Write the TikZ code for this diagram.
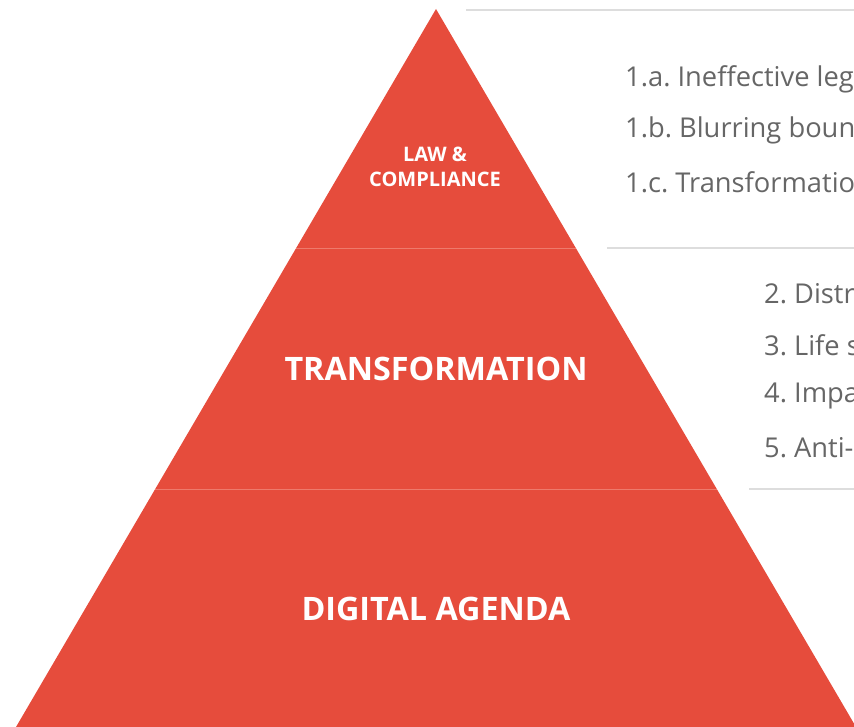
\documentclass[tikz,border=0pt]{standalone}
\usepackage{fontspec}
\setmainfont{Open Sans}
\definecolor{pyr}{HTML}{E64C3C}
\definecolor{pyrline}{HTML}{EE7A6C}
\definecolor{txt}{HTML}{666666}
\definecolor{rule}{HTML}{DDDDDD}
\begin{document}
\frenchspacing
\begin{tikzpicture}[x=1pt,y=-1pt,
  item/.style={anchor=west,inner sep=0pt,text=txt,font=\fontsize{27.3}{27.3}\selectfont},
  lvl/.style={align=center,text=white,inner sep=0pt}]
\useasboundingbox (0,0) rectangle (854,727);
\clip (0,0) rectangle (854,727);
\coordinate (apex) at (436,9);
\coordinate (bl) at (16,727);
\coordinate (br) at (856,727);
\fill[pyr] (apex) -- (br) -- (bl) -- cycle;
\draw[pyrline,line width=0.6pt] (296.2,248) -- (575.8,248);
\draw[pyrline,line width=0.6pt] (155.2,489) -- (716.8,489);
\draw[rule,line width=1.5pt] (466,10) -- (854,10);
\draw[rule,line width=1.5pt] (607,248) -- (854,248);
\draw[rule,line width=1.5pt] (749,489) -- (854,489);
\node[lvl,font=\fontsize{20}{25}\selectfont\bfseries] (law) at (435,167) {LAW \&\\COMPLIANCE};
\node[lvl,font=\fontsize{32.3}{32}\selectfont\bfseries] (tr) at (436,369) {TRANSFORMATION};
\node[lvl,font=\fontsize{32.3}{32}\selectfont\bfseries] (da) at (436,609) {DIGITAL AGENDA};
\node[item] (a1) at (625,79) {1.a. Ineffective leg};
\node[item] (b1) at (625,130) {1.b. Blurring boun};
\node[item] (c1) at (625,182) {1.c. Transformatio};
\node[item] (i2) at (764,294) {2. Distr};
\node[item] (i3) at (764,345) {3. Life s};
\node[item] (i4) at (764,396) {4. Impa};
\node[item] (i5) at (764,448) {5. Anti-};
\end{tikzpicture}
\end{document}
